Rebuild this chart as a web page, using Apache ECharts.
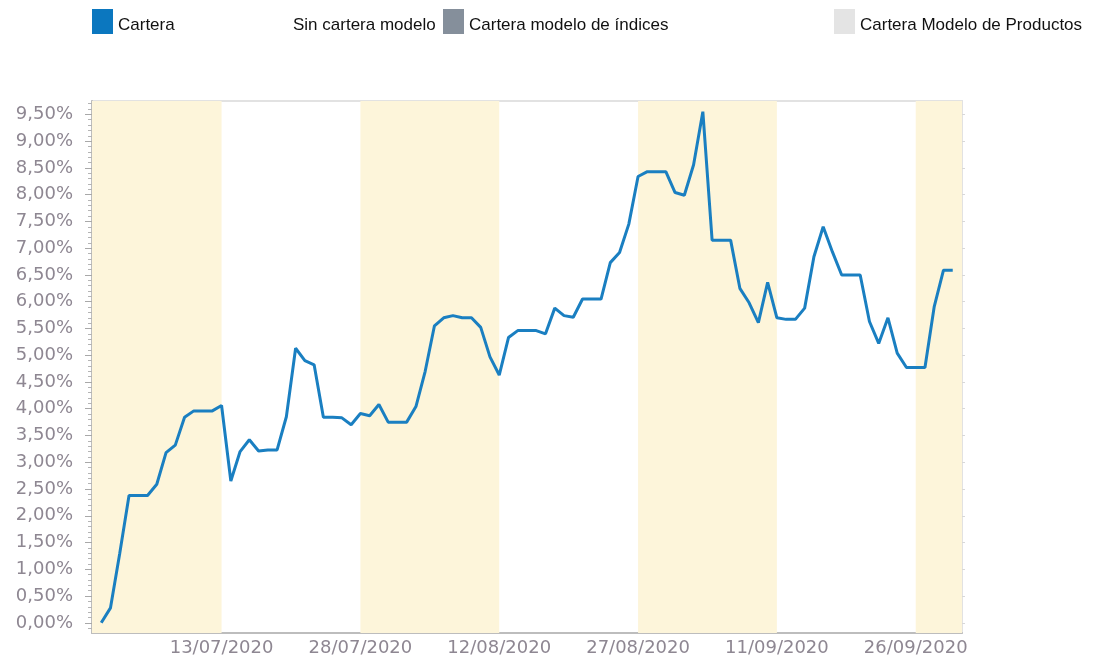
<!DOCTYPE html>
<html>
<head>
<meta charset="utf-8">
<script src="https://cdn.jsdelivr.net/npm/echarts@6/dist/echarts.min.js"></script>
<style>
  html, body { margin: 0; padding: 0; background: #fff; }
  #main { width: 1116px; height: 659px; }
</style>
</head>
<body>
<div id="main"></div>
<script>
var myChart = echarts.init(document.getElementById('main'));

// daily values (%) from 30/06/2020 to 30/09/2020
var firstDay = '2020-06-30';
var cartera = [
    0.00, 0.28, 1.30, 2.38, 2.38, 2.38, 2.59, 3.18, 3.32, 3.84,
    3.96, 3.96, 3.96, 4.06, 2.65, 3.20, 3.42, 3.21, 3.23, 3.23,
    3.85, 5.13, 4.90, 4.82, 3.84, 3.84, 3.83, 3.70, 3.91, 3.87,
    4.08, 3.75, 3.75, 3.75, 4.04, 4.70, 5.55, 5.70, 5.74, 5.70,
    5.70, 5.52, 4.97, 4.63, 5.33, 5.46, 5.46, 5.46, 5.40, 5.88,
    5.74, 5.71, 6.05, 6.05, 6.05, 6.73, 6.92, 7.45, 8.34, 8.43,
    8.43, 8.43, 8.04, 7.99, 8.56, 9.55, 7.15, 7.15, 7.15, 6.25,
    5.98, 5.61, 6.36, 5.70, 5.67, 5.67, 5.88, 6.84, 7.40, 6.93,
    6.50, 6.50, 6.50, 5.63, 5.22, 5.70, 5.04, 4.77, 4.77, 4.77,
    5.91, 6.59, 6.59
];
var xTicks = ['2020-07-13', '2020-07-28', '2020-08-12', '2020-08-27', '2020-09-11', '2020-09-26'];
var yTicks = [0, 0.5, 1, 1.5, 2, 2.5, 3, 3.5, 4, 4.5, 5, 5.5, 6, 6.5, 7, 7.5, 8, 8.5, 9, 9.5];
var legendNames = ['Cartera', 'Sin cartera modelo', 'Cartera modelo de índices', 'Cartera Modelo de Productos'];
var legendColors = ['#0b77bf', '#ffffff', '#858f9b', '#e4e4e4'];

// x axis counts days from the start of the axis (29/06/2020)
var axisStart = '2020-06-29', axisEnd = '2020-10-01';
var DAY = 86400000;
function ts(s) {
    var p = s.split('-');
    return Date.UTC(+p[0], +p[1] - 1, +p[2]);
}
function dayNo(s) { return Math.round((ts(s) - ts(axisStart)) / DAY); }
function fmtDay(n) {
    var d = new Date(ts(axisStart) + n * DAY);
    var dd = ('0' + d.getUTCDate()).slice(-2), mm = ('0' + (d.getUTCMonth() + 1)).slice(-2);
    return dd + '/' + mm + '/' + d.getUTCFullYear();
}

var xMin = 0, xMax = dayNo(axisEnd);
var lineData = cartera.map(function (v, i) { return [dayNo(firstDay) + i, v]; });
var xTickDays = xTicks.map(dayNo);

// alternating shaded bands, edges on the labelled dates
var edges = [xMin].concat(xTickDays).concat([xMax]);
var bands = [];
for (var i = 0; i + 1 < edges.length; i += 2) {
    bands.push([{ xAxis: edges[i] }, { xAxis: edges[i + 1] }]);
}

var minorTicks = [-0.1];
yTicks.forEach(function (v) {
    for (var k = 1; k < 5; k++) minorTicks.push(+(v + k * 0.1).toFixed(2));
});

var legendLeft = [92, 267, 443, 834];
var legends = legendNames.map(function (n, i) {
    return {
        data: [n], left: legendLeft[i], top: 9, padding: 0, icon: 'rect',
        itemWidth: 21, itemHeight: 25, selectedMode: false,
        formatter: '{t|{name}}',
        textStyle: {
            rich: { t: { fontFamily: 'Liberation Sans, Arial', fontSize: 17, color: '#111', padding: [8, 0, 0, 0] } }
        }
    };
});

var labelFont = { fontFamily: 'DejaVu Sans, Verdana', fontSize: 18, color: '#8e8792' };

option = {
    animation: false,
    legend: legends,
    grid: {
        left: 92, right: 154, top: 101, bottom: 26,
        show: true, borderColor: '#e2e2e2', borderWidth: 2
    },
    xAxis: {
        type: 'value', min: xMin, max: xMax,
        axisLine: { show: true, onZero: false, lineStyle: { color: '#bdbdbd', width: 2 } },
        axisTick: { show: false },
        splitLine: { show: false },
        axisLabel: Object.assign({
            customValues: xTickDays, margin: 6,
            formatter: function (v) { return fmtDay(v); }
        }, labelFont)
    },
    yAxis: [{
        type: 'value', min: -0.19, max: 9.75,
        axisLine: { show: true, lineStyle: { color: '#bdbdbd', width: 2 } },
        axisTick: { show: true, customValues: yTicks, length: 7, lineStyle: { color: '#a8a8a8' } },
        splitLine: { show: false },
        axisLabel: Object.assign({
            customValues: yTicks, margin: 19,
            formatter: function (v) { return v.toFixed(2).replace('.', ',') + '%'; }
        }, labelFont)
    }, {
        type: 'value', min: -0.19, max: 9.75, position: 'left',
        axisLine: { show: false },
        axisTick: { show: true, customValues: minorTicks, length: 4, lineStyle: { color: '#b4b4b4' } },
        axisLabel: { show: false },
        splitLine: { show: false }
    }, {
        type: 'value', min: -0.19, max: 9.75, position: 'right',
        axisLine: { show: false },
        axisTick: { show: true, customValues: yTicks, length: 3, lineStyle: { color: '#d8d8d8' } },
        axisLabel: { show: false },
        splitLine: { show: false }
    }],
    series: [{
        name: legendNames[0],
        type: 'line',
        data: lineData,
        showSymbol: false,
        color: legendColors[0],
        lineStyle: { color: '#1a7fc1', width: 3 },
        markArea: {
            silent: true,
            itemStyle: { color: '#fdf5da' },
            data: bands
        }
    }].concat(legendNames.slice(1).map(function (n, i) {
        return { name: n, type: 'line', data: [], color: legendColors[i + 1] };
    }))
};

myChart.setOption(option);
</script>
</body>
</html>
